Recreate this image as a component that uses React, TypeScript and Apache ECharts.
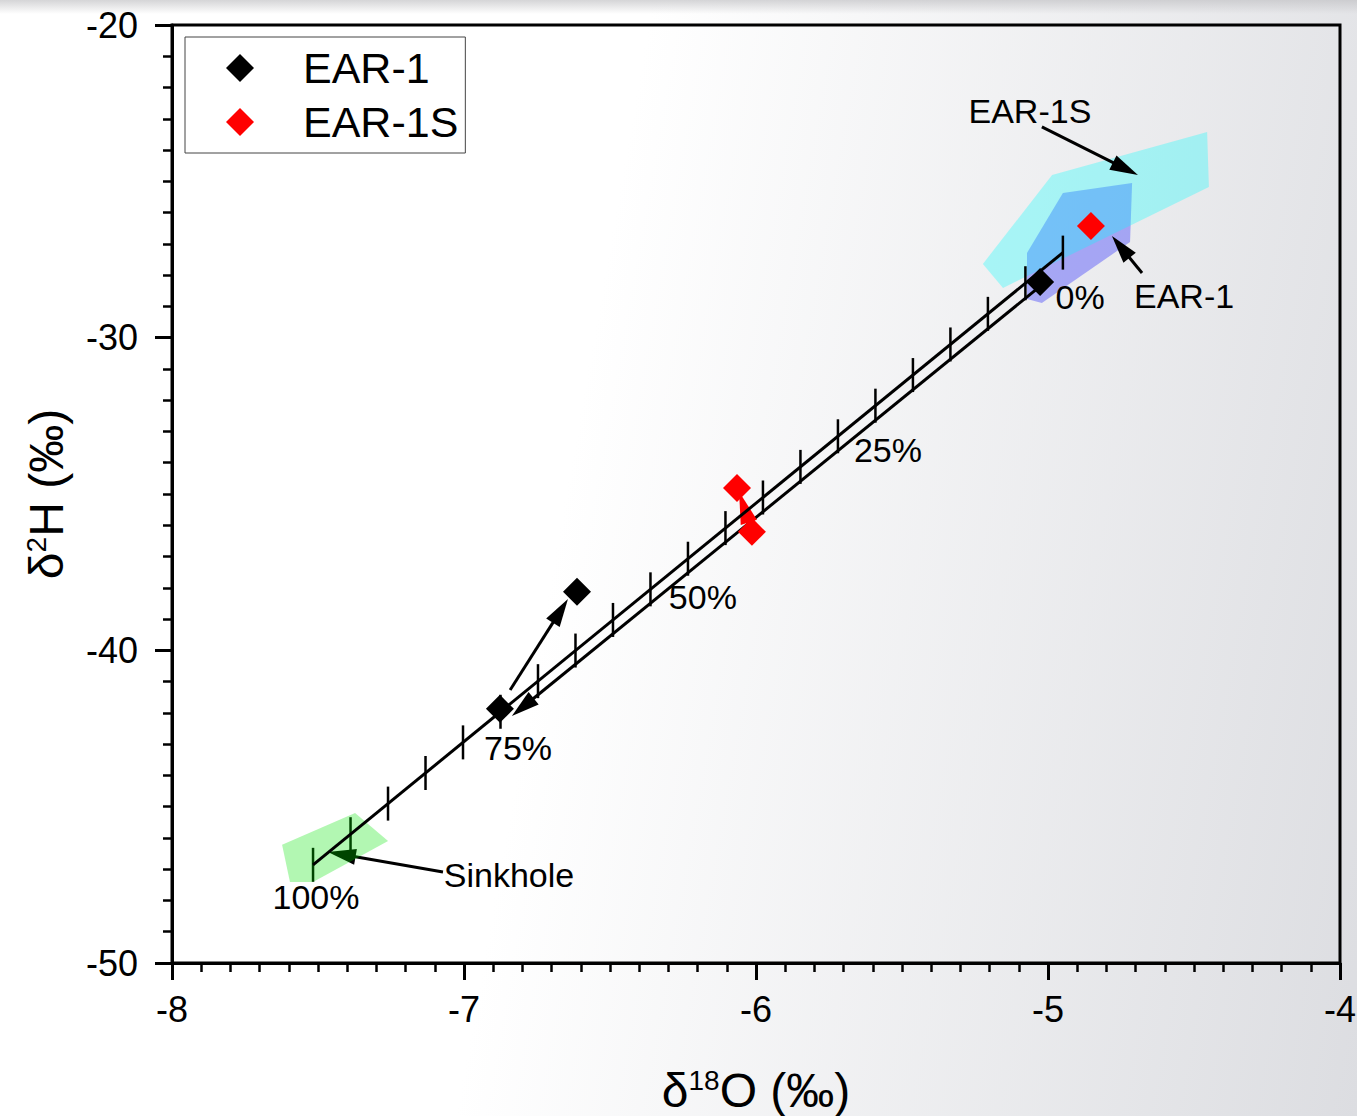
import React, { useEffect, useRef } from 'react';
import * as echarts from 'echarts';

const FONT = '"Liberation Sans", Arial, Helvetica, sans-serif';

// Axis ranges / ticks
const X_MIN = -8;
const X_MAX = -4;
const Y_MIN = -50;
const Y_MAX = -20;

// Samples (δ18O, δ2H)
const EAR1_POINTS = [
  [-5.027, -28.22],
  [-6.877, -41.87],
  [-6.613, -38.13],
];
const EAR1S_POINTS = [
  [-4.853, -26.43],
  [-6.065, -34.81],
  [-6.014, -36.21],
];

// Mixing line (0% -> 100%)
const MIX_START = [-4.949, -27.28];
const MIX_END = [-7.517, -46.86];
const MIX_FRACTIONS = [0, 0.05, 0.1, 0.15, 0.2, 0.25, 0.3, 0.35, 0.4, 0.45, 0.5, 0.55, 0.6, 0.65, 0.7, 0.75, 0.8, 0.85, 0.9, 0.95, 1];

// Envelopes
const EAR1_ZONE = [
  [-5.072, -27.29],
  [-4.949, -25.37],
  [-4.712, -25.05],
  [-4.719, -26.94],
  [-5.021, -28.89],
  [-5.072, -28.76],
];
const EAR1S_ZONE = [
  [-5.223, -27.64],
  [-4.986, -24.8],
  [-4.455, -23.42],
  [-4.449, -25.18],
  [-5.154, -28.41],
];
const SINKHOLE_ZONE = [
  [-7.623, -46.22],
  [-7.373, -45.2],
  [-7.26, -46.1],
  [-7.517, -47.41],
  [-7.596, -47.41],
];

// Arrows [x1, y1, x2, y2] (tail -> tip)
const BLACK_ARROWS = [
  [-5.021, -23.26, -4.692, -24.8],
  [-4.678, -27.93, -4.781, -26.75],
  [-7.072, -47.09, -7.466, -46.45],
  [-6.842, -41.27, -6.644, -38.36],
  [-5.021, -28.31, -6.836, -42.1],
];
const RED_ARROWS = [[-6.014, -36.21, -6.058, -34.93]];

// Annotations
const LABEL_TEXTS = ['0%', '25%', '50%', '75%', '100%', 'EAR-1S', 'EAR-1', 'Sinkhole'];
const LABEL_POS = [
  [-4.89, -28.7],
  [-5.548, -33.59],
  [-6.182, -38.29],
  [-6.815, -43.12],
  [-7.507, -47.89],
  [-5.062, -22.75],
  [-4.534, -28.67],
  [-6.846, -47.18],
];

function polygonSeries(points: number[][], fill: string) {
  return {
    type: 'custom',
    coordinateSystem: 'cartesian2d',
    silent: true,
    data: [points[0]],
    renderItem: (_p: any, api: any) => ({
      type: 'polygon',
      shape: { points: points.map((pt) => api.coord(pt)) },
      style: { fill },
    }),
  };
}

function arrowSeries(arrows: number[][], color: string, headLen: number, headHalf: number, lw: number) {
  return {
    type: 'custom',
    coordinateSystem: 'cartesian2d',
    silent: true,
    encode: { x: [0, 2], y: [1, 3] },
    data: arrows,
    renderItem: (_p: any, api: any) => {
      const p1 = api.coord([api.value(0), api.value(1)]);
      const p2 = api.coord([api.value(2), api.value(3)]);
      const dx = p2[0] - p1[0];
      const dy = p2[1] - p1[1];
      const len = Math.hypot(dx, dy);
      const ux = dx / len;
      const uy = dy / len;
      const bx = p2[0] - ux * headLen;
      const by = p2[1] - uy * headLen;
      const nx = -uy;
      const ny = ux;
      return {
        type: 'group',
        children: [
          {
            type: 'line',
            shape: { x1: p1[0], y1: p1[1], x2: bx + ux * 3, y2: by + uy * 3 },
            style: { stroke: color, lineWidth: lw },
          },
          {
            type: 'polygon',
            shape: {
              points: [
                [p2[0], p2[1]],
                [bx + nx * headHalf, by + ny * headHalf],
                [bx - nx * headHalf, by - ny * headHalf],
              ],
            },
            style: { fill: color },
          },
        ],
      };
    },
  };
}

const TITLE_RICH = {
  d: { fontSize: 48, lineHeight: 48, fontFamily: FONT, color: '#000' },
  s: { fontSize: 28, lineHeight: 36, verticalAlign: 'top', fontFamily: FONT, color: '#000' },
};

export default function App() {
  const ref = useRef<HTMLDivElement>(null);
  useEffect(() => {
    document.body.style.margin = '0';
    const chart = echarts.init(ref.current!, null, { renderer: 'svg' });
    const mixTicks = MIX_FRACTIONS.map((f) => [
      MIX_START[0] + (MIX_END[0] - MIX_START[0]) * f,
      MIX_START[1] + (MIX_END[1] - MIX_START[1]) * f,
    ]);
    const option: any = {
      animation: false,
      backgroundColor: 'transparent',
      grid: {
        left: 172,
        right: 17,
        top: 25,
        bottom: 153,
        show: true,
        borderColor: '#000',
        borderWidth: 3,
        backgroundColor: 'transparent',
        outerBoundsMode: 'none',
      },
      legend: {
        data: ['EAR-1', 'EAR-1S'],
        orient: 'vertical',
        left: 185,
        top: 37,
        icon: 'diamond',
        itemWidth: 28,
        itemHeight: 28,
        itemGap: 10,
        padding: [9, 7, 9, 41],
        backgroundColor: '#fff',
        borderColor: '#444',
        borderWidth: 1,
        itemStyle: { opacity: 1 },
        textStyle: { fontSize: 43, fontFamily: FONT, color: '#000', padding: [0, 0, 0, 44], lineHeight: 44 },
      },
      xAxis: {
        type: 'value',
        min: X_MIN,
        max: X_MAX,
        interval: 1,
        name: '{d|δ}{s|18}{d|O (‰)}',
        nameLocation: 'middle',
        nameGap: 103,
        nameTextStyle: { rich: TITLE_RICH },
        axisLine: { show: true, onZero: false, lineStyle: { color: '#000', width: 3 } },
        axisTick: { show: true, inside: false, length: 17, lineStyle: { color: '#000', width: 3 } },
        minorTick: { show: true, splitNumber: 10, length: 9, lineStyle: { color: '#000', width: 2.5 } },
        axisLabel: { fontSize: 36, color: '#000', margin: 28, fontFamily: FONT, showMinLabel: true, showMaxLabel: true },
        splitLine: { show: false },
        minorSplitLine: { show: false },
      },
      yAxis: {
        type: 'value',
        min: Y_MIN,
        max: Y_MAX,
        interval: 10,
        name: '{d|δ}{s|2}{d|H (‰)}',
        nameLocation: 'middle',
        nameGap: 102,
        nameRotate: 90,
        nameTextStyle: { rich: TITLE_RICH },
        axisLine: { show: true, onZero: false, lineStyle: { color: '#000', width: 3 } },
        axisTick: { show: true, inside: false, length: 17, lineStyle: { color: '#000', width: 3 } },
        minorTick: { show: true, splitNumber: 10, length: 9, lineStyle: { color: '#000', width: 2.5 } },
        axisLabel: { fontSize: 36, color: '#000', margin: 34, fontFamily: FONT, showMinLabel: true, showMaxLabel: true },
        splitLine: { show: false },
        minorSplitLine: { show: false },
      },
      series: [
        polygonSeries(EAR1_ZONE, 'rgba(0,0,255,0.3)'),
        polygonSeries(EAR1S_ZONE, 'rgba(0,255,255,0.3)'),
        {
          type: 'line',
          silent: true,
          data: [MIX_START, MIX_END],
          symbol: 'none',
          lineStyle: { color: '#000', width: 3 },
        },
        {
          type: 'custom',
          coordinateSystem: 'cartesian2d',
          silent: true,
          data: mixTicks,
          renderItem: (_p: any, api: any) => {
            const c = api.coord([api.value(0), api.value(1)]);
            return {
              type: 'line',
              shape: { x1: c[0], y1: c[1] - 17, x2: c[0], y2: c[1] + 17 },
              style: { stroke: '#000', lineWidth: 2.5 },
            };
          },
        },
        arrowSeries(BLACK_ARROWS, '#000', 28, 8, 3),
        polygonSeries(SINKHOLE_ZONE, 'rgba(0,230,0,0.3)'),
        arrowSeries(RED_ARROWS, '#ff0000', 32, 8.5, 3),
        {
          type: 'custom',
          coordinateSystem: 'cartesian2d',
          silent: true,
          data: LABEL_POS,
          renderItem: (p: any, api: any) => {
            const c = api.coord([api.value(0), api.value(1)]);
            return {
              type: 'text',
              x: c[0],
              y: c[1],
              style: {
                text: LABEL_TEXTS[p.dataIndex],
                fontSize: 34,
                fontFamily: FONT,
                fill: '#000',
                align: 'center',
                verticalAlign: 'middle',
              },
            };
          },
        },
        {
          name: 'EAR-1',
          type: 'scatter',
          data: EAR1_POINTS,
          symbol: 'diamond',
          symbolSize: 28,
          itemStyle: { color: '#000', opacity: 1 },
        },
        {
          name: 'EAR-1S',
          type: 'scatter',
          data: EAR1S_POINTS,
          symbol: 'diamond',
          symbolSize: 28,
          itemStyle: { color: '#ff0000', opacity: 1 },
        },
      ],
    };
    chart.setOption(option);
    return () => chart.dispose();
  }, []);
  return (
    <div
      ref={ref}
      style={{
        position: 'absolute',
        left: 0,
        top: 0,
        width: 1357,
        height: 1116,
        background:
          'linear-gradient(to bottom, rgba(195,195,198,0.7) 0px, rgba(215,215,218,0) 14px), linear-gradient(100deg, #ffffff 42%, #dcdde1 100%)',
      }}
    />
  );
}
